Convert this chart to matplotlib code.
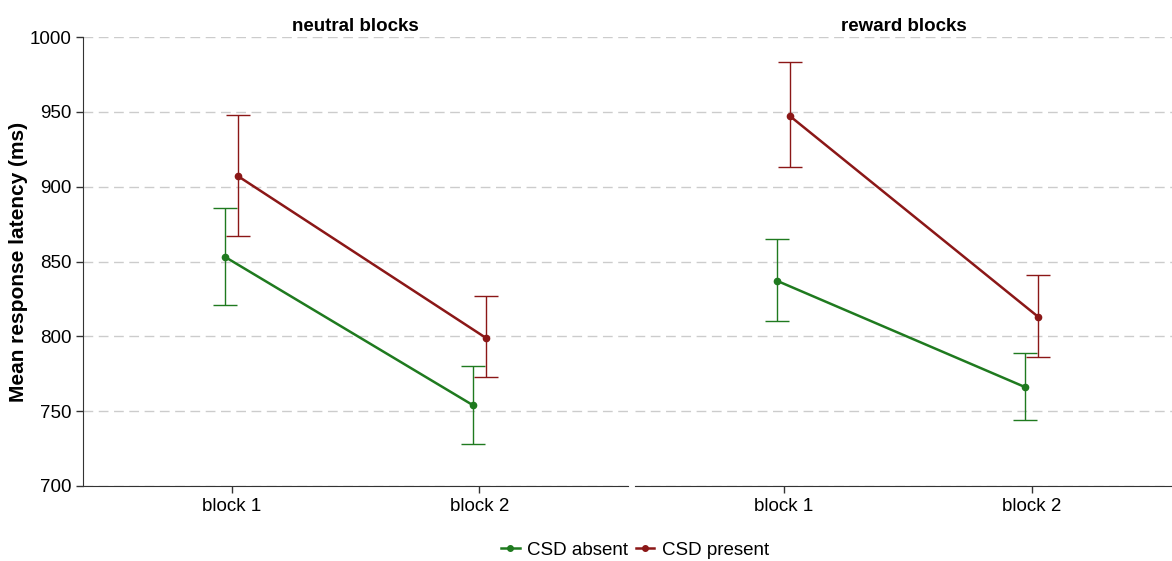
import numpy as np
import matplotlib
import matplotlib.pyplot as plt
from matplotlib.lines import Line2D

matplotlib.rcParams.update({
    "font.family": ["Liberation Sans", "DejaVu Sans"],
    "font.size": 13.5,
})

# ─── Data ─────────────────────────────────────────────────────────────────────

PANELS = ["neutral blocks", "reward blocks"]
BLOCKS = ["block 1", "block 2"]
GROUPS = ["CSD absent", "CSD present"]

# mean latency and error bar limits, [panel][block]
ABSENT_MEAN = [[853, 754], [837, 766]]
ABSENT_LOW = [[821, 728], [810, 744]]
ABSENT_HIGH = [[886, 780], [865, 789]]

PRESENT_MEAN = [[907, 799], [947, 813]]
PRESENT_LOW = [[867, 773], [913, 786]]
PRESENT_HIGH = [[948, 827], [983, 841]]

COLORS = {"CSD absent": "#1f7a1f", "CSD present": "#8b1717"}
DODGE = 0.026

# ─── Figure ───────────────────────────────────────────────────────────────────

W, H = 1172, 561
fig = plt.figure(figsize=(W / 100, H / 100), dpi=100)

ax_l = fig.add_axes([83 / W, (H - 486) / H, 545 / W, 449 / H])
ax_r = fig.add_axes([635 / W, (H - 486) / H, 537 / W, 449 / H], sharey=ax_l)

series = {
    "CSD absent": (ABSENT_MEAN, ABSENT_LOW, ABSENT_HIGH, -DODGE),
    "CSD present": (PRESENT_MEAN, PRESENT_LOW, PRESENT_HIGH, DODGE),
}

x = np.arange(1, len(BLOCKS) + 1)

for p, (ax, title) in enumerate(zip([ax_l, ax_r], PANELS)):
    for name, (mean, low, high, off) in series.items():
        m = np.array(mean[p])
        yerr = np.vstack([m - np.array(low[p]), np.array(high[p]) - m])
        ax.errorbar(x + off, m, yerr=yerr, fmt="none", ecolor=COLORS[name],
                    elinewidth=1.0, capsize=8.6, capthick=1.0, zorder=3)
        ax.plot(x + off, m, color=COLORS[name], lw=1.8, marker="o",
                markersize=4.5, zorder=4)

    ax.set_title(title, fontweight="bold", fontsize=13.5, pad=4)
    ax.set_xticks(x)
    ax.set_xticklabels(BLOCKS)
    ax.grid(axis="y", color="#cccccc", lw=1.0, linestyle=(0, (7, 4)), zorder=0)
    ax.set_axisbelow(True)
    for s in ["top", "right"]:
        ax.spines[s].set_visible(False)
    ax.spines["bottom"].set_color("#333333")
    ax.spines["left"].set_color("#333333")
    ax.tick_params(colors="#333333", labelcolor="black", length=5, width=1)

ax_l.set_xlim(0.4, 2.6)
ax_r.set_xlim(0.4, 0.4 + 537 / 248)
ax_l.set_ylim(700, 1000)
ax_l.set_yticks(np.arange(700, 1001, 50))
ax_l.set_ylabel("Mean response latency (ms)", fontweight="bold", fontsize=15,
                labelpad=1)

ax_r.spines["left"].set_visible(False)
ax_r.tick_params(axis="y", left=False, labelleft=False)

handles = [
    Line2D([], [], color=COLORS[g], lw=1.8, marker="o", markersize=4)
    for g in GROUPS
]
fig.legend(handles, GROUPS, loc="center", bbox_to_anchor=(635 / W, 1 - 550 / H),
           ncol=2, frameon=False, handlelength=1.0, handletextpad=0.4,
           columnspacing=0.4, borderpad=0)

fig.savefig("out.png", dpi=100)
